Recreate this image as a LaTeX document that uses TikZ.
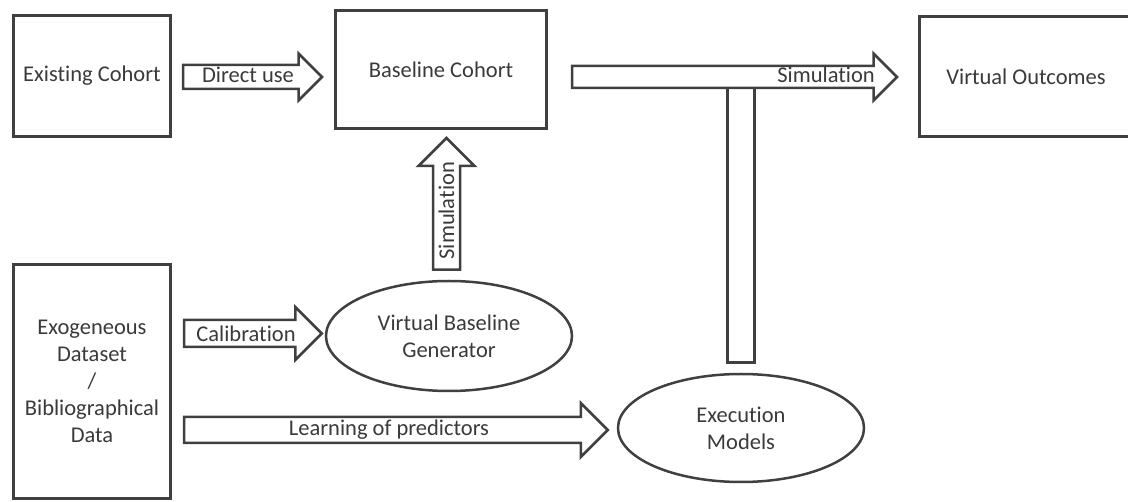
\documentclass[tikz,border=0pt]{standalone}
\usepackage{fontspec}
\setmainfont{Carlito}[Ligatures={NoCommon,NoDiscretionary,NoContextual}]
\usetikzlibrary{calc,shapes.geometric}

\definecolor{linegray}{HTML}{404040}
\definecolor{textgray}{HTML}{3A3A3A}

% hollow block arrow: tail, tip, shaft half width, head half width
\newcommand{\blockarrow}[4]{%
  \coordinate (hb) at ($(#2)!#4pt!(#1)$);
  \draw[fatarrow] ($(#1)!#3pt!90:(#2)$) -- ($(hb)!#3pt!90:(#2)$)
    -- ($(hb)!#4pt!90:(#2)$) -- (#2) -- ($(hb)!#4pt!-90:(#2)$)
    -- ($(hb)!#3pt!-90:(#2)$) -- ($(#1)!#3pt!-90:(#2)$) -- cycle;
}

\begin{document}
\begin{tikzpicture}[x=1pt,y=-1pt,
    font=\fontsize{22.5}{27}\selectfont, text=textgray,
    box/.style={draw=linegray,line width=3pt,rectangle,align=center,inner sep=0pt},
    oval/.style={draw=linegray,line width=2.5pt,ellipse,align=center,inner sep=0pt},
    fatarrow/.style={draw=linegray,line width=2.5pt,line join=miter},
    tag/.style={inner sep=0pt}]
  \useasboundingbox (0,0) rectangle (1128,502);

  % boxes and ovals
  \node[box,minimum width=157pt,minimum height=121pt] (exist) at (92,76) {Existing Cohort};
  \node[box,minimum width=211pt,minimum height=118pt] (base) at (441,69.5) {Baseline Cohort};
  \node[box,minimum width=213pt,minimum height=120pt] (outc) at (1026,76.5) {Virtual Outcomes};
  \node[box,minimum width=157pt,minimum height=234pt] (exo) at (92,381.5)
    {Exogeneous\\Dataset\\/\\Bibliographical\\Data};
  \node[oval,minimum width=246pt,minimum height=110pt] (vbg) at (449,336)
    {Virtual Baseline\\Generator};
  \node[oval,minimum width=246pt,minimum height=108pt] (exec) at (741,428)
    {Execution\\Models};

  % arrow ends
  \coordinate (du-a) at ($(exist.east)+(11,1)$);
  \coordinate (du-b) at ($(base.west |- du-a)+(-12,0)$);
  \coordinate (sim-a) at ($(base.east |- du-a)+(24,0)$);
  \coordinate (sim-b) at ($(outc.west |- du-a)+(-21,0)$);
  \coordinate (cal-b) at ($(vbg.west)+(-3,-2.5)$);
  \coordinate (cal-a) at ($(exo.east |- cal-b)+(12,0)$);
  \coordinate (lrn-b) at ($(exec.west)+(-9,2)$);
  \coordinate (lrn-a) at ($(exo.east |- lrn-b)+(12,0)$);
  \coordinate (vs-a) at ($(vbg.north)+(-2.5,-10)$);
  \coordinate (vs-b) at ($(vs-a |- base.south)+(0,8)$);

  \blockarrow{du-a}{du-b}{12}{23.5}
  \blockarrow{sim-a}{sim-b}{11}{23.5}
  \blockarrow{cal-a}{cal-b}{13.5}{26.5}
  \blockarrow{lrn-a}{lrn-b}{13}{27}
  \blockarrow{vs-a}{vs-b}{13.5}{28}
  \draw[fatarrow] ($(exec.north)+(-13.5,-10)$) rectangle ($(exec.north |- sim-a)+(13.5,11)$);

  % arrow labels
  \node[tag] (l-du) at ($(du-a)+(65,-2)$) {Direct use};
  \node[tag,anchor=east] (l-sim) at ($(sim-b)+(-22,-2)$) {Simulation};
  \node[tag] (l-cal) at ($(cal-a)+(62,0)$) {Calibration};
  \node[tag] (l-lrn) at ($(lrn-a)+(205,0)$) {Learning of predictors};
  \node[tag,rotate=90] (l-vs) at ($(vs-a)+(0,-59)$) {Simulation};
\end{tikzpicture}
\end{document}
